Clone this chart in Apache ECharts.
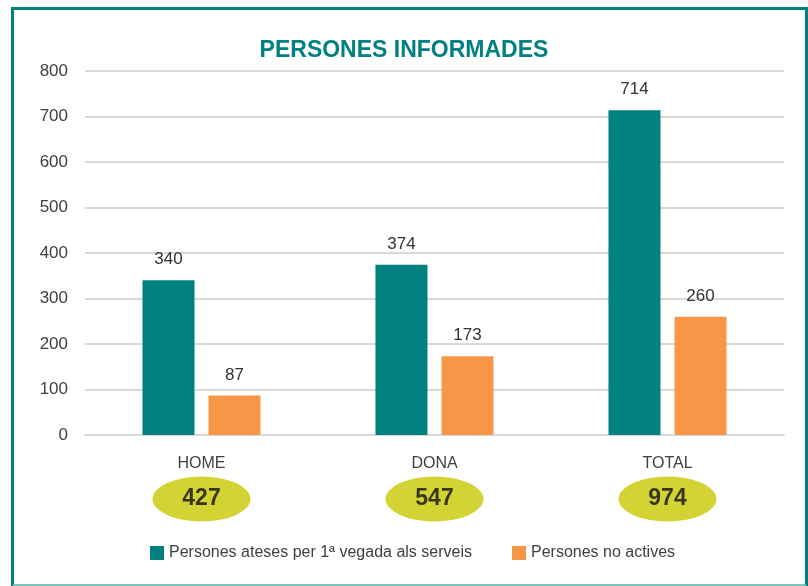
<!DOCTYPE html>
<html>
<head>
<meta charset="utf-8">
<script src="https://cdn.jsdelivr.net/npm/echarts@6/dist/echarts.min.js"></script>
<style>
  html, body { margin: 0; padding: 0; background: #fff; }
  #frame {
    position: absolute; left: 11px; top: 7px; width: 797px; height: 580px;
    box-sizing: border-box; border: 3px solid #008080; border-bottom-color: #7cc4bd;
  }
  #chart { position: absolute; left: 0; top: 0; width: 808px; height: 586px; }
</style>
</head>
<body>
<div id="frame"></div>
<div id="chart"></div>
<script>
var categories = ["HOME", "DONA", "TOTAL"];
var ateses = [340, 374, 714];
var noActives = [87, 173, 260];
var totals = [427, 547, 974];
var yTicks = [0, 800, 100]; // min, max, step

var FONT = "'Liberation Sans', sans-serif";

var myChart = echarts.init(document.getElementById("chart"));

var option = {
    textStyle: { fontFamily: FONT },
    title: {
        text: "PERSONES INFORMADES",
        left: "center",
        top: 34,
        textStyle: { color: "#008080", fontSize: 23, fontWeight: "bold", fontFamily: FONT }
    },
    legend: {
        bottom: 20,
        left: 145,
        itemWidth: 14,
        itemHeight: 14,
        itemGap: 40,
        icon: "rect",
        textStyle: { color: "#404040", fontSize: 16, fontFamily: FONT },
        data: ["Persones ateses per 1ª vegada als serveis", "Persones no actives"]
    },
    grid: [
        { left: 85, right: 24, top: 71, height: 364 },
        { left: 85, right: 24, top: 476, height: 46 }
    ],
    xAxis: [
        {
            type: "category",
            gridIndex: 0,
            data: categories,
            axisLine: { lineStyle: { color: "#d9d9d9", width: 2 } },
            axisTick: { show: false },
            axisLabel: { color: "#404040", fontSize: 16, margin: 21 }
        },
        {
            type: "category",
            gridIndex: 1,
            data: categories,
            show: false
        }
    ],
    yAxis: [
        {
            type: "value",
            gridIndex: 0,
            min: yTicks[0],
            max: yTicks[1],
            interval: yTicks[2],
            axisLine: { show: false },
            axisTick: { show: false },
            splitLine: { lineStyle: { color: "#d9d9d9", width: 2 } },
            axisLabel: { color: "#404040", fontSize: 17, margin: 17 }
        },
        {
            type: "value",
            gridIndex: 1,
            min: 0,
            max: 1,
            show: false
        }
    ],
    series: [
        {
            name: "Persones ateses per 1ª vegada als serveis",
            type: "bar",
            barWidth: 52,
            barGap: "27%",
            itemStyle: { color: "#008080" },
            label: { show: true, position: "top", distance: 12, color: "#333", fontSize: 17 },
            data: ateses
        },
        {
            name: "Persones no actives",
            type: "bar",
            barWidth: 52,
            itemStyle: { color: "#F79646" },
            label: { show: true, position: "top", distance: 12, color: "#333", fontSize: 17 },
            data: noActives
        },
        {
            name: "totals",
            type: "scatter",
            xAxisIndex: 1,
            yAxisIndex: 1,
            symbol: "path://M0,50 A50,50 0 1,1 100,50 A50,50 0 1,1 0,50 Z",
            symbolSize: [98, 45],
            itemStyle: { color: "#C8C800" },
            label: {
                show: true,
                position: "inside",
                color: "#111",
                fontSize: 23,
                fontWeight: "bold",
                formatter: function (p) { return totals[p.dataIndex]; }
            },
            silent: true,
            data: totals.map(function () { return 0.5; })
        }
    ]
};
option && myChart.setOption(option);
</script>
</body>
</html>
